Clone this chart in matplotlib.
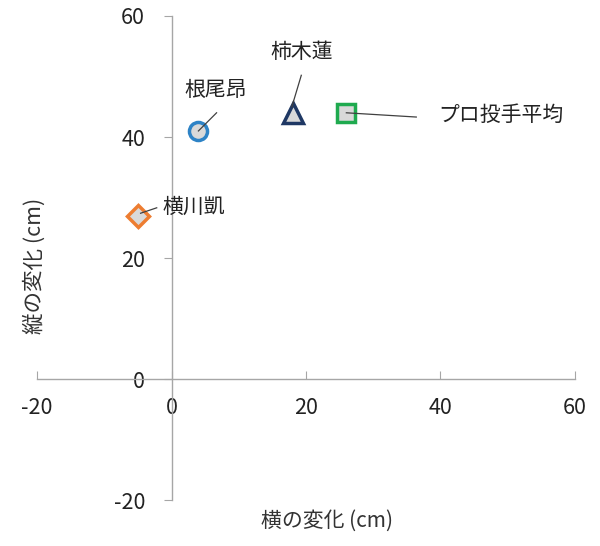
import matplotlib
matplotlib.use("Agg")
import matplotlib.pyplot as plt

plt.rcParams['font.family'] = ['Noto Sans CJK JP', 'DejaVu Sans']
plt.rcParams['axes.unicode_minus'] = False

names = ['根尾昂', '柿木蓮', 'プロ投手平均', '横川凱']
x_vals = [4, 18, 26, -5]
y_vals = [41, 44, 44, 27]
markers = ['o', '^', 's', 'D']
edge_colors = ['#2e83c6', '#1f3864', '#1faa4f', '#ed7d31']
sizes = [13, 14.5, 12.5, 11]
label_pos = [(6.5, 47.8), (19.3, 54.0), (49.0, 43.6), (3.3, 28.4)]
leader_ends = [(6.7, 44.0), (19.3, 50.2), (36.4, 43.3), (-2.2, 28.3)]
leader_starts = [(4.0, 41.0), (17.9, 45.0), (26.0, 44.0), (-4.6, 27.4)]
ticks = [-20, 0, 20, 40, 60]

fig = plt.figure(figsize=(6, 5.46), dpi=100)
ax = fig.add_axes([0.0617, 0.0842, 0.8966, 0.8865])
ax.set_xlim(-20, 60)
ax.set_ylim(-20, 60)

for sp in ['top', 'right']:
    ax.spines[sp].set_visible(False)
ax.spines['left'].set_position(('data', 0))
ax.spines['bottom'].set_position(('data', 0))
for sp in ['left', 'bottom']:
    ax.spines[sp].set_color('#a6a6a6')
    ax.spines[sp].set_linewidth(1.0)

ax.set_xticks(ticks)
ax.set_yticks(ticks)
ax.tick_params(axis='x', direction='in', length=6, color='#a6a6a6', labelsize=15.5, pad=13, labelcolor='#222222')
ax.tick_params(axis='y', direction='out', length=6, color='#a6a6a6', labelsize=15.5, pad=13, labelcolor='#222222')

for x, y, m, c, s in zip(x_vals, y_vals, markers, edge_colors, sizes):
    ax.plot([x], [y], linestyle='none', marker=m, markersize=s, markerfacecolor='#d9d9d9',
            markeredgecolor=c, markeredgewidth=2.5, zorder=3)

for n, (tx, ty), p0, p1 in zip(names, label_pos, leader_starts, leader_ends):
    ax.text(tx, ty, n, ha='center', va='center', fontsize=15, color='#222222')
    ax.plot([p0[0], p1[0]], [p0[1], p1[1]], color='#404040', linewidth=0.9, zorder=4)

fig.text(0.545, 0.047, '横の変化 (cm)', ha='center', va='center', fontsize=15, color='#333333')
fig.text(0.057, 0.513, '縦の変化 (cm)', ha='center', va='center', rotation=90, fontsize=15.5, color='#333333')

fig.savefig('out.png', dpi=100, facecolor='white')
